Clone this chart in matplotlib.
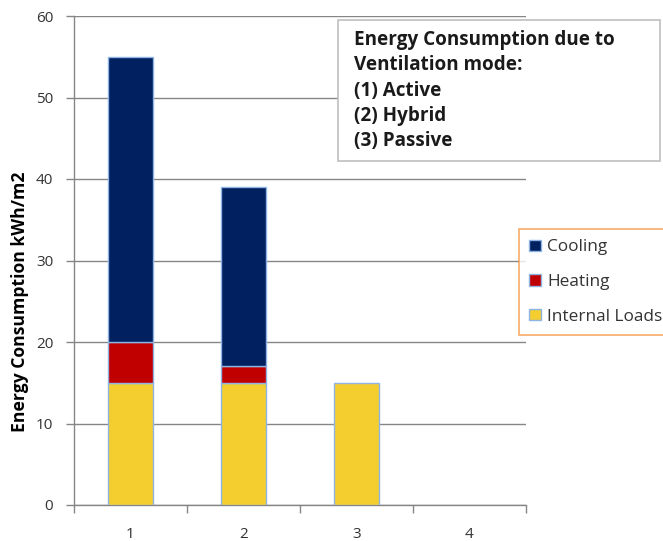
import matplotlib
matplotlib.use("Agg")
import matplotlib.pyplot as plt
from matplotlib.patches import Rectangle, Patch
import numpy as np

plt.rcParams['font.family'] = ['Open Sans', 'DejaVu Sans']

categories = ["1", "2", "3", "4"]
internal_loads = [15, 15, 15, 0]
heating = [5, 2, 0, 0]
cooling = [35, 22, 0, 0]
series_names = ["Cooling", "Heating", "Internal Loads"]
y_ticks = [0, 10, 20, 30, 40, 50, 60]
y_label = "Energy Consumption kWh/m2"
note_lines = ["Energy Consumption due to", "Ventilation mode:", "(1) Active",
              "(2) Hybrid", "(3) Passive"]

c_cool = "#002060"
c_heat = "#C00000"
c_int = "#F4CD2F"
c_edge = "#8EB4E3"
grid_c = "#868686"
txt_c = "#333333"

W, H = 663, 541
fig = plt.figure(figsize=(W / 100, H / 100), dpi=100)
fig.patch.set_facecolor("white")

ax_l, ax_r, ax_t, ax_b = 74, 525.6, 16, 505
ax = fig.add_axes([ax_l / W, 1 - ax_b / H, (ax_r - ax_l) / W, (ax_b - ax_t) / H])

x = np.arange(len(categories))
bw = 0.4
b_int = np.array(internal_loads, float)
b_heat = np.array(heating, float)
b_cool = np.array(cooling, float)
mask = (b_int + b_heat + b_cool) > 0
ax.bar(x[mask], b_int[mask], bw, color=c_int, edgecolor=c_edge, linewidth=1, zorder=3)
mh = b_heat > 0
ax.bar(x[mh], b_heat[mh], bw, bottom=b_int[mh], color=c_heat, edgecolor=c_edge, linewidth=1, zorder=3)
mc = b_cool > 0
ax.bar(x[mc], b_cool[mc], bw, bottom=(b_int + b_heat)[mc], color=c_cool, edgecolor=c_edge, linewidth=1, zorder=3)

ax.set_xlim(-0.5, len(categories) - 0.5)
ax.set_ylim(0, 60)
ax.set_yticks(y_ticks)
ax.set_xticks(x)
ax.set_xticklabels(categories)
ax.set_xticks(np.arange(len(categories) + 1) - 0.5, minor=True)
ax.tick_params(axis='x', which='major', length=0, pad=16, labelsize=11, labelcolor=txt_c)
ax.tick_params(axis='x', which='minor', length=6, width=1, color=grid_c, direction='out')
ax.tick_params(axis='y', length=6, width=1, color=grid_c, pad=9, labelsize=11, labelcolor=txt_c)
ax.yaxis.grid(True, color=grid_c, linewidth=1, zorder=0)
ax.set_axisbelow(True)
for s in ['top', 'right']:
    ax.spines[s].set_visible(False)
for s in ['left', 'bottom']:
    ax.spines[s].set_color(grid_c)
    ax.spines[s].set_linewidth(1)

fig.text(20 / W, 1 - 302 / H, y_label, rotation=90, ha='center', va='center',
         fontsize=12.6, fontweight='bold', color='black')

# Note box
fig.add_artist(Rectangle((338 / W, 1 - 161 / H), (660 - 338) / W, (161 - 20) / H,
                         transform=fig.transFigure, facecolor='white',
                         edgecolor='#BFBFBF', linewidth=1.2, zorder=5))
y0 = 40
for i, line in enumerate(note_lines):
    fig.text(354 / W, 1 - (y0 + i * 25.3) / H, line, ha='left', va='center',
             fontsize=13.6, fontweight='bold', color='#1a1a1a', zorder=6)

handles = [Patch(facecolor=c_cool, edgecolor=c_edge),
           Patch(facecolor=c_heat, edgecolor=c_edge),
           Patch(facecolor=c_int, edgecolor=c_edge)]
leg = fig.legend(handles, series_names, loc='upper left',
                 bbox_to_anchor=(519 / W, 1 - 229 / H), frameon=True,
                 fontsize=12.4, labelspacing=1.08, handlelength=0.65, handleheight=0.65,
                 handletextpad=0.4, borderpad=0.6, borderaxespad=0, fancybox=False)
leg.get_frame().set_edgecolor('#F79646')
leg.get_frame().set_linewidth(1.2)
for t in leg.get_texts():
    t.set_color(txt_c)

fig.savefig("out.png", dpi=100)
